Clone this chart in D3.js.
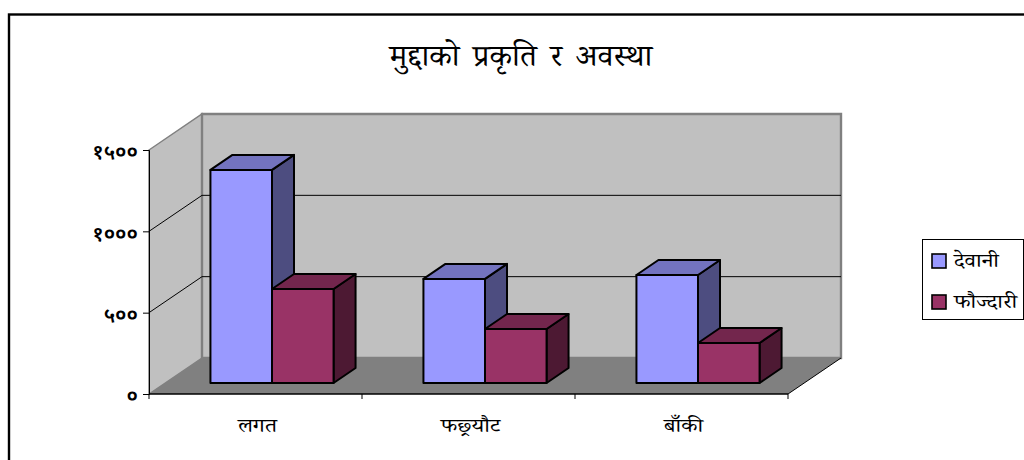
<!DOCTYPE html>
<html>
<head>
<meta charset="utf-8">
<script src="https://cdnjs.cloudflare.com/ajax/libs/d3/7.8.5/d3.min.js"></script>
<style>
  html, body { margin:0; padding:0; background:#fff; overflow:hidden; }
  svg { display:block; }
  text { font-family:"Noto Serif Devanagari","Lohit Devanagari","Noto Sans Devanagari","Mangal","Noto Sans","DejaVu Sans",sans-serif; fill:#000; }
</style>
</head>
<body>
<svg id="chart" width="1024" height="460"></svg>
<script>
const titleText = 'मुद्दाको प्रकृति र अवस्था';
const categories = ['लगत', 'फछ्र्यौट', 'बाँकी'];
const seriesNames = ['देवानी', 'फौज्दारी'];
const civilValues = [1310, 640, 664];
const criminalValues = [578, 332, 246];
const yTicks = [0, 500, 1000, 1500];
const yTickLabels = ['०', '५००', '१०००', '१५००'];

const colors = {
  'देवानी':   { front:'#9999ff', top:'#7373bf', side:'#4d4d80' },
  'फौज्दारी': { front:'#993366', top:'#73264d', side:'#4d1933' }
};

const svg = d3.select('#chart');

// the installed Devanagari face is narrower than the original one, so widen the glyphs
function widen(sel, k){
  sel.each(function(){
    d3.select(this).attr('lengthAdjust','spacingAndGlyphs').attr('textLength',this.getComputedTextLength()*k);
  });
}

// chart frame, runs off the right and bottom of the picture
svg.append('rect').attr('x',9).attr('y',14.5).attr('width',1100).attr('height',600)
  .attr('fill','#fff').attr('stroke','#000').attr('stroke-width',2.4);

// wall depth and bar depth
const wallDx = 53, wallDy = -36;
const barDx = 22, barDy = -15;
const barShiftX = 16.5, barShiftY = -11;

const y = d3.scaleLinear().domain([0,1500]).range([394,150]);
const x = d3.scaleBand().domain(categories).range([149,788]);
const inner = d3.scaleBand().domain(seriesNames).range([0,x.bandwidth()]).paddingInner(0).paddingOuter(0.73);

const poly = pts => 'M' + pts.map(p=>p.join(',')).join('L') + 'Z';
const x0 = x.range()[0], x1 = x.range()[1], y0 = y(0), yMax = y(1500);

// side wall, back wall, floor
svg.append('path').attr('d',poly([[x0,yMax],[x0+wallDx,yMax+wallDy],[x0+wallDx,y0+wallDy],[x0,y0]]))
  .attr('fill','#c0c0c0').attr('stroke','#808080').attr('stroke-width',1.5);
svg.append('path').attr('d',poly([[x0+wallDx,yMax+wallDy],[x1+wallDx,yMax+wallDy],[x1+wallDx,y0+wallDy],[x0+wallDx,y0+wallDy]]))
  .attr('fill','#c0c0c0').attr('stroke','#808080').attr('stroke-width',2.4);
svg.append('path').attr('d',poly([[x0,y0],[x0+wallDx,y0+wallDy],[x1+wallDx,y0+wallDy],[x1,y0]]))
  .attr('fill','#808080');
svg.append('line').attr('x1',x1).attr('y1',y0).attr('x2',x1+wallDx).attr('y2',y0+wallDy)
  .attr('stroke','#000').attr('stroke-width',1);

// gridlines
yTicks.filter(t=>t>0 && t<1500).forEach(t=>{
  svg.append('path').attr('fill','none').attr('stroke','#000').attr('stroke-width',1)
    .attr('d',`M${x0},${y(t)}L${x0+wallDx},${y(t)+wallDy}L${x1+wallDx},${y(t)+wallDy}`);
});

// bars
const rows = categories.map((c,i)=>({ cat:c, values:[civilValues[i],criminalValues[i]] }));
const gBars = svg.append('g').attr('stroke','#000').attr('stroke-width',2).attr('stroke-linejoin','round');
rows.forEach(r=>{
  r.values.forEach((v,j)=>{
    const name = seriesNames[j];
    const left = x(r.cat) + inner(name) + barShiftX;
    const right = left + inner.bandwidth();
    const top = y(v) + barShiftY;
    const bottom = y0 + barShiftY;
    const g = gBars.append('g');
    g.append('path').attr('fill',colors[name].side)
      .attr('d',poly([[right,top],[right+barDx,top+barDy],[right+barDx,bottom+barDy],[right,bottom]]));
    g.append('path').attr('fill',colors[name].top)
      .attr('d',poly([[left,top],[left+barDx,top+barDy],[right+barDx,top+barDy],[right,top]]));
    g.append('rect').attr('fill',colors[name].front)
      .attr('x',left).attr('y',top).attr('width',right-left).attr('height',bottom-top);
  });
});

// axes
const yAxis = d3.axisLeft(y).tickValues(yTicks).tickSize(6).tickPadding(5)
  .tickFormat((d,i)=>yTickLabels[i]);
const gy = svg.append('g').attr('transform',`translate(${x0},0)`).call(yAxis);
gy.selectAll('text').style('font-family','"Noto Sans Devanagari","Lohit Devanagari",sans-serif')
  .style('font-size','21px').style('font-weight','600').attr('dy','0.42em');
gy.select('.domain').attr('stroke','#000');

const xAxis = d3.axisBottom(x).tickSize(0).tickPadding(22);
const gx = svg.append('g').attr('transform',`translate(0,${y0})`).call(xAxis);
gx.selectAll('text').style('font-size','19px').attr('dx',2).attr('dy','0.85em').attr('fill','#111').call(widen,1.2);
gx.select('.domain').attr('stroke','#000').attr('stroke-width',1.5).attr('d',`M${x0},0H${x1}`);
// ticks sit on the band edges
categories.concat(['end']).forEach((c,i)=>{
  const px = x0 + i*x.step();
  gx.append('line').attr('x1',px).attr('x2',px).attr('y1',0).attr('y2',5).attr('stroke','#000');
});

// title
svg.append('text').attr('x',521).attr('y',66).attr('text-anchor','middle')
  .style('font-size','30px').style('word-spacing','5px').text(titleText).call(widen,1.056);

// legend
const legend = svg.append('g').attr('transform','translate(922,239)');
legend.append('rect').attr('x',0.5).attr('y',0.5).attr('width',101).attr('height',80)
  .attr('fill','#fff').attr('stroke','#000').attr('stroke-width',1);
seriesNames.forEach((name,i)=>{
  const row = legend.append('g').attr('transform',`translate(10,${15+i*41})`);
  row.append('rect').attr('width',14).attr('height',14)
    .attr('fill',colors[name].front).attr('stroke','#000').attr('stroke-width',1.6);
  row.append('text').attr('x',22).attr('y',13).style('font-size','19px').text(name).call(widen,1.2);
});
</script>
</body>
</html>
